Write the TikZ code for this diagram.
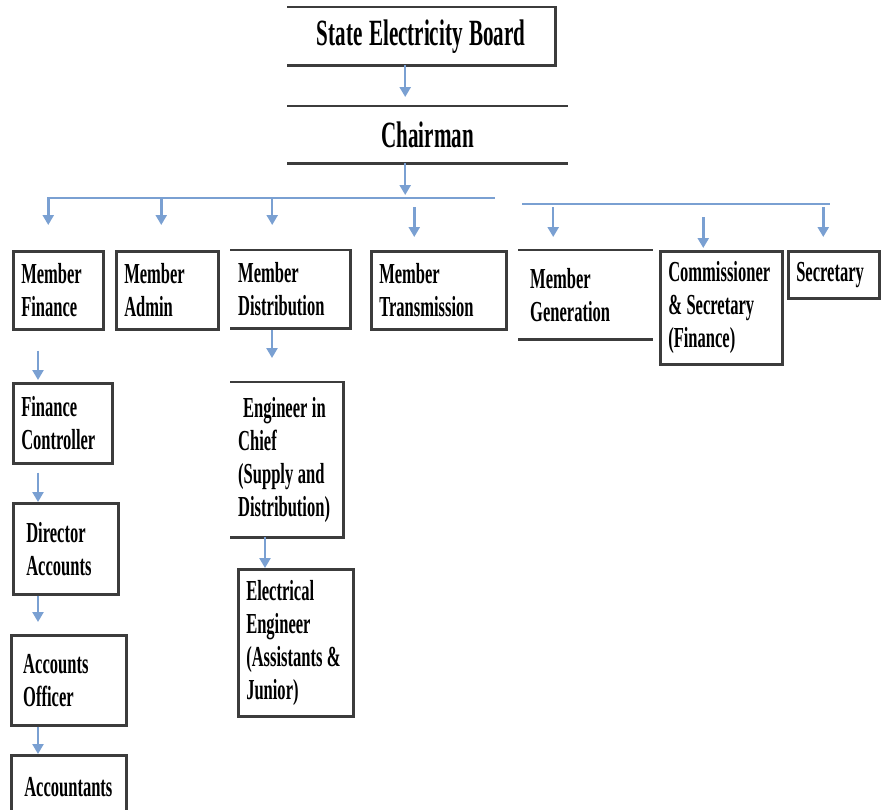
\documentclass[tikz,border=0pt]{standalone}
\usepackage{fontspec}
\setmainfont[FakeStretch=0.57]{Liberation Serif}
\usepackage{tikz}
\usetikzlibrary{arrows.meta,calc}
\definecolor{linkblue}{RGB}{122,160,210}
\definecolor{boxgray}{RGB}{60,60,60}
\tikzset{>={Triangle[length=10pt,width=11pt]}}
\newcommand*{\boxfont}{\fontsize{29}{33}\selectfont\bfseries\hyphenpenalty=10000}
\newcommand*{\headfont}{\fontsize{37}{44}\selectfont\bfseries}
\tikzset{
  unit/.style={anchor=north west,inner xsep=8pt,inner ysep=0pt,align=left,font=\boxfont,
    execute at begin node={\spaceskip=4.5pt plus 2pt minus 1pt\relax}},
  head/.style={unit,align=center,font=\headfont,
    execute at begin node={\spaceskip=6pt plus 2pt minus 1pt\relax}},
  framed/.style={unit,draw=boxgray,line width=2.5pt},
  rule/.style={draw=boxgray,line width=2.5pt},
  link/.style={->,draw=linkblue,line width=2.5pt},
}

\begin{document}
\begin{tikzpicture}[x=1pt,y=-1pt]
\useasboundingbox (0,0) rectangle (881,809);
\clip (0,0) rectangle (881,809);
\node[head,text width=252pt,minimum height=58pt] (seb) at (287,7) {State Electricity Board};
\draw[rule] (seb.north west) -- (seb.north east) -- (seb.south east) -- (seb.south west);
\node[head,text width=265pt,minimum height=57pt] (chair) at (287,106) {Chairman};
\draw[rule] (chair.north west) -- (chair.north east);
\draw[rule,line width=3.5pt] (chair.south west) -- (chair.south east);
\draw[link,shorten >=9pt] ([xshift=-16pt]seb.south) -- ([xshift=-16pt]seb.south |- chair.north);

\coordinate (bus1w) at (47,198);
\coordinate (bus1e) at (495,198);
\coordinate (bus2w) at (522,204);
\coordinate (bus2e) at (830,204);
\draw[link,-] (bus1w) -- (bus1e);
\draw[link,-] (bus2w) -- (bus2e);
\draw[link,shorten >=3pt] ([xshift=-22.5pt]chair.south) -- ([xshift=-22.5pt]chair.south |- bus1w);

\node[framed,text width=74pt,minimum height=78pt] (mfin) at (12,250) {Member\\Finance};
\node[framed,text width=86pt,minimum height=78pt] (madm) at (115,250) {Member\\Admin};
\node[unit,text width=104pt,minimum height=78pt] (mdis) at (230,250) {Member\\Distribution};
\draw[rule] (mdis.north west) -- (mdis.north east) -- (mdis.south east) -- (mdis.south west);
\node[framed,text width=119pt,minimum height=78pt] (mtra) at (370,250) {Member\\Transmission};
\node[unit,inner xsep=12pt,text width=111pt,minimum height=89pt] (mgen) at (518,250) {Member\\Generation};
\draw[rule] (mgen.north west) -- (mgen.north east);
\draw[rule] (mgen.south west) -- (mgen.south east);
\node[framed,text width=106pt,minimum height=113pt] (comm) at (659,250) {Commissioner\\\& Secretary\\(Finance)};
\node[framed,text width=75pt,minimum height=47pt] (secy) at (787,250) {Secretary};

\draw[link,shorten >=25pt] ([xshift=-10pt]mfin.north |- bus1w) -- ([xshift=-10pt]mfin.north);
\draw[link,shorten >=25pt] ([xshift=-6pt]madm.north |- bus1w) -- ([xshift=-6pt]madm.north);
\draw[link,shorten >=25pt] ([xshift=-18pt]mdis.north |- bus1w) -- ([xshift=-18pt]mdis.north);
\draw[link,shorten <=9pt,shorten >=13pt] ([xshift=-24.5pt]mtra.north |- bus1w) -- ([xshift=-24.5pt]mtra.north);
\draw[link,shorten <=3pt,shorten >=13pt] ([xshift=-32.5pt]mgen.north |- bus2w) -- ([xshift=-32.5pt]mgen.north);
\draw[link,shorten <=13pt,shorten >=2pt] ([xshift=-18pt]comm.north |- bus2w) -- ([xshift=-18pt]comm.north);
\draw[link,shorten <=3pt,shorten >=13pt] ([xshift=-10.5pt]secy.north |- bus2w) -- ([xshift=-10.5pt]secy.north);

\node[framed,text width=83pt,minimum height=80pt] (fctl) at (12,382) {Finance\\Controller};
\node[framed,inner xsep=13pt,text width=79pt,minimum height=91pt] (dacc) at (12,502) {Director\\Accounts};
\node[framed,inner xsep=12pt,text width=91pt,minimum height=90pt] (aoff) at (10,634) {Accounts\\Officer};
\node[framed,inner xsep=13pt,text width=89pt,minimum height=63pt] (acct) at (10,754) {Accountants};

\draw[link,shorten <=20pt,shorten >=2pt] ([xshift=26pt]mfin.south west) -- ([xshift=26pt]mfin.south west |- fctl.north);
\draw[link,shorten <=8pt] ([xshift=26pt]fctl.south west) -- ([xshift=26pt]fctl.south west |- dacc.north);
\draw[link,shorten >=12pt] ([xshift=26pt]dacc.south west) -- ([xshift=26pt]dacc.south west |- aoff.north);
\draw[link] ([xshift=28pt]aoff.south west) -- ([xshift=28pt]aoff.south west |- acct.north);

\node[unit,text width=97pt,minimum height=155pt] (eic) at (230,382) {\hspace*{5pt}Engineer in\\Chief\\(Supply and\\Distribution)};
\draw[rule] (eic.north west) -- (eic.north east) -- (eic.south east) -- (eic.south west);
\node[framed,text width=99pt,minimum height=147pt] (elec) at (237,568) {Electrical\\Engineer\\(Assistants \&\\Junior)};

\draw[link,shorten <=2pt,shorten >=24pt] ([xshift=42pt]mdis.south west) -- ([xshift=42pt]mdis.south west |- eic.north);
\draw[link] ([xshift=35pt]eic.south west) -- ([xshift=35pt]eic.south west |- elec.north);
\end{tikzpicture}
\end{document}
